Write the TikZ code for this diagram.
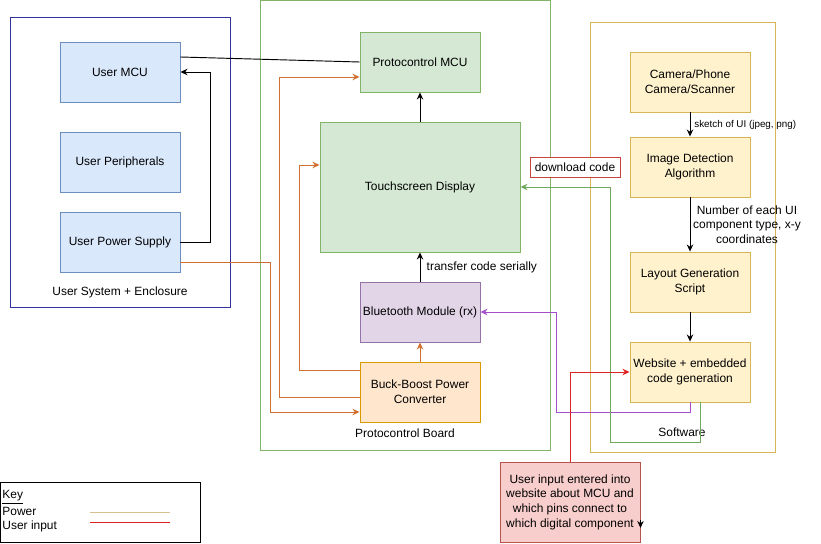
\documentclass[tikz,border=0pt]{standalone}
\usepackage{fontspec}
\setmainfont{Liberation Sans}
\usepackage{xcolor}
\usetikzlibrary{positioning,arrows.meta,calc}

\definecolor{bluefill}{HTML}{DAE8FC}\definecolor{bluedraw}{HTML}{6C8EBF}
\definecolor{grnfill}{HTML}{D5E8D4}\definecolor{grndraw}{HTML}{82B366}
\definecolor{purfill}{HTML}{E1D5E7}\definecolor{purdraw}{HTML}{9673A6}
\definecolor{orgfill}{HTML}{FFE6CC}\definecolor{orgdraw}{HTML}{D79B00}
\definecolor{yelfill}{HTML}{FFF2CC}\definecolor{yeldraw}{HTML}{D6B656}
\definecolor{redfill}{HTML}{F8CECC}\definecolor{reddraw}{HTML}{B85450}
\definecolor{userframe}{HTML}{3333A0}
\definecolor{pwline}{HTML}{D07030}
\definecolor{btline}{HTML}{A64DC8}
\definecolor{dlline}{HTML}{70A860}
\definecolor{uiline}{HTML}{DD2222}
\definecolor{keypw}{HTML}{D8C090}

\begin{document}
\begin{tikzpicture}[x=0.03cm, y=-0.03cm, font=\fontsize{10.2}{12.5}\selectfont,
    line width=0.8pt,
    box/.style={draw, minimum width=3.6cm, minimum height=1.8cm, align=center, inner sep=1pt},
    ubox/.style={box, fill=bluefill, draw=bluedraw},
    gbox/.style={box, fill=grnfill, draw=grndraw},
    sbox/.style={box, fill=yelfill, draw=yeldraw},
    arr/.style={-{Stealth[length=6pt,width=5.5pt]}},
    pw/.style={arr, draw=pwline},
]
\useasboundingbox (0,0) rectangle (821,544);

% Group frames
\draw[userframe] (10,17) rectangle (230,307);
\draw[grndraw] (260,0) rectangle (550,450);
\draw[yeldraw] (590,22) rectangle (775,452);
\node (usrlbl) at (120,292) {User System + Enclosure};
\node (pcblbl) at (405,433) {Protocontrol Board};
\node (swlbl) at (682,432) {Software};

% User system
\foreach \n/\y/\t in {umcu/72/User MCU, uper/162/User Peripherals, ups/242/User Power Supply} {
    \node[ubox] (\n) at (120,\y) {\t};
}

% Protocontrol board
\node[gbox] (pmcu) at (420,62) {Protocontrol MCU};
\node[gbox, minimum width=6cm, minimum height=3.9cm] (touch) at (420,187) {Touchscreen Display};
\node[box, fill=purfill, draw=purdraw] (blue) at (420,312) {Bluetooth Module (rx)};
\node[box, fill=orgfill, draw=orgdraw] (buck) at (420,392) {Buck-Boost Power\\Converter};

% Software
\node[sbox] (cam) at (690,82) {Camera/Phone\\Camera/Scanner};
\node[sbox] (img) at (690,167) {Image Detection\\Algorithm};
\node[sbox] (lay) at (690,282) {Layout Generation\\Script};
\node[sbox] (web) at (690,372) {Website + embedded\\code generation};

% Notes
\node[draw=reddraw!80!red, fill=white, minimum width=2.7cm, minimum height=0.6cm, inner sep=1pt] (dl) at (575,167) {download code};
\node[box, fill=redfill, draw=reddraw, minimum width=4.2cm, minimum height=2.4cm] (uin) at (570,502)
    {User input entered into\\website about MCU and\\which pins connect to\\which digital component};

% Connectors
\draw[arr] (ups.east) -- ++(30,0) |- (umcu.east);
\draw ($(umcu.east)+(0,-15)$) -- (pmcu.west);
\draw[arr] (touch.north) -- (pmcu.south);
\draw[arr] (blue.north) -- (touch.south) node[midway, right=2pt] {transfer code serially};
\draw[pw] (buck.north) -- (blue.south);
\draw[pw] ($(ups.east)+(0,20)$) -- ++(90,0) |- ($(buck.west)+(0,20)$);
\draw[pw] ($(buck.west)+(0,5)$) -- ++(-80,0) |- ($(pmcu.west)+(0,15)$);
\draw[pw] ($(buck.west)+(0,-22)$) -- ++(-60,0) |- ($(touch.west)+(0,-22)$);
\draw[arr] (cam.south) -- (img.north) node[midway, right=0pt, font=\fontsize{8.4}{9}\selectfont] {sketch of UI (jpeg, png)};
\draw[arr] (img.south) -- (lay.north) node[midway, right=-1pt, align=center] {Number of each UI\\component type, x-y\\coordinates};
\draw[arr] (lay.south) -- (web.north);
\draw[arr, draw=btline] (web.south) -- ++(0,10) -- ++(-134,0) |- (blue.east);
\draw[arr, draw=dlline] ($(web.south)+(10,0)$) -- ++(0,40) -- ++(-90,0) |- (touch.east);
\draw[arr, draw=uiline] (uin.north) |- (web.west);
\draw[arr] ($(uin.east)+(0,18)$) -- ++(0,8);

% Key
\node[draw=black, minimum width=6cm, minimum height=1.8cm] (key) at (100,512) {};
\node[anchor=west, inner sep=0pt] (keyhd) at (2,497) {\underline{Key}};
\node[anchor=west, inner sep=0pt] (keypwr) at (2,511) {Power};
\node[anchor=west, inner sep=0pt] (keyui) at (2,526) {User input};
\draw[keypw] (90,512) -- (170,512);
\draw[uiline] (90,522) -- (170,522);
\end{tikzpicture}
\end{document}
